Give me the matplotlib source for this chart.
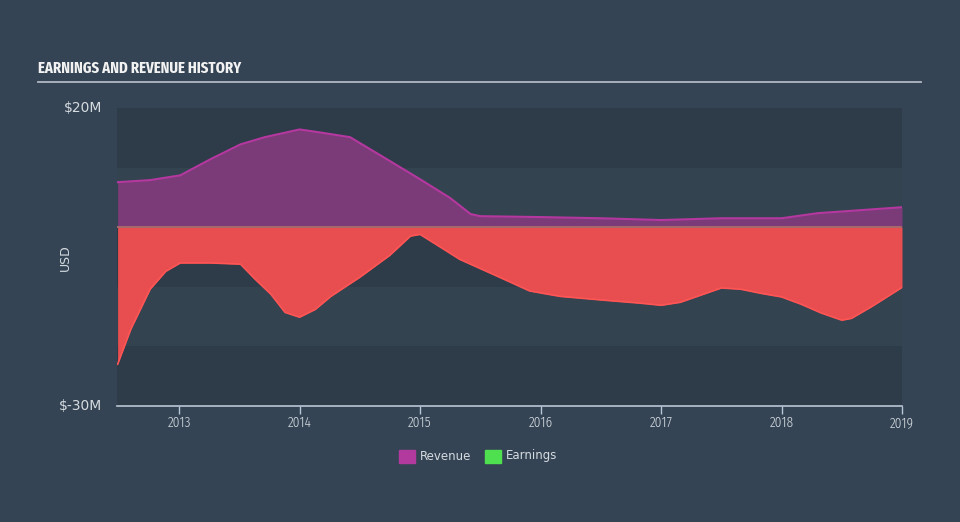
import matplotlib
matplotlib.use("Agg")
import matplotlib.pyplot as plt
from matplotlib.patches import Rectangle
from matplotlib.lines import Line2D
from matplotlib import font_manager as fm
import os

# ---- data (USD millions) ----
rev_years = [2012.49, 2012.76, 2013.01, 2013.26, 2013.51, 2013.71, 2014.0, 2014.17,
             2014.42, 2014.75, 2015.0, 2015.25, 2015.42, 2015.5, 2016.0, 2016.5,
             2017.0, 2017.5, 2018.0, 2018.3, 2018.65, 2019.0]
revenue = [7.55, 7.9, 8.7, 11.4, 13.9, 15.1, 16.4, 15.9, 15.1, 11.1, 8.05, 4.9,
           2.2, 1.85, 1.7, 1.5, 1.2, 1.5, 1.5, 2.35, 2.85, 3.35]

earn_years = [2012.49, 2012.6, 2012.76, 2012.89, 2013.01, 2013.26, 2013.51, 2013.63,
              2013.76, 2013.88, 2014.0, 2014.13, 2014.26, 2014.5, 2014.75, 2014.92,
              2015.0, 2015.13, 2015.33, 2015.66, 2015.91, 2016.16, 2016.5, 2016.83,
              2017.0, 2017.16, 2017.33, 2017.5, 2017.66, 2017.83, 2018.0, 2018.16,
              2018.33, 2018.5, 2018.58, 2018.75, 2019.0]
earnings = [-23.0, -17.1, -10.4, -7.4, -6.0, -6.0, -6.2, -8.7, -11.2, -14.3, -15.1,
            -13.8, -11.6, -8.4, -4.7, -1.5, -1.2, -2.85, -5.4, -8.4, -10.7, -11.6,
            -12.2, -12.75, -13.1, -12.6, -11.4, -10.2, -10.4, -11.1, -11.7, -12.9,
            -14.4, -15.6, -15.3, -13.3, -10.1]

xticks = [2013, 2014, 2015, 2016, 2017, 2018, 2019]
ytick_vals = [20, -30]
ytick_labels = ["$20M", "$-30M"]


def stretch_rank(entry):
    b = os.path.basename(entry.fname).lower().replace("-", "").replace("_", "")
    n = entry.name.lower()
    if "mono" in b or "serif" in b or "italic" in b or "oblique" in b:
        return None
    if "ultracondensed" in b:
        return 3
    if "extracondensed" in b:
        return 1
    if "semicondensed" in b:
        return 4
    if "condensed" in b or "narrow" in b or "condensed" in n or "narrow" in n:
        return 2
    return None


def weight_num(entry):
    w = entry.weight
    if isinstance(w, int):
        return w
    return {"normal": 400, "regular": 400, "bold": 700, "light": 300}.get(str(w), 400)


def pick(target_weight):
    best = None
    for e in fm.fontManager.ttflist:
        r = stretch_rank(e)
        if r is None:
            continue
        score = (r, abs(weight_num(e) - target_weight))
        if best is None or score < best[0]:
            best = (score, e.fname)
    return fm.FontProperties(fname=best[1]) if best else fm.FontProperties(family="DejaVu Sans")


title_fp = pick(700)
tick_fp = pick(350)

BG = "#344454"
DARK = "#2e3b49"
LIGHT = "#344350"
TXT = "#d6dbe0"

fig = plt.figure(figsize=(9.6, 5.22), dpi=100)
fig.patch.set_facecolor(BG)
ax = fig.add_axes([117/960, (522-406)/522, 785/960, 298/522])
ax.set_facecolor(DARK)
ax.set_xlim(2012.485, 2019.0)
ax.set_ylim(-30, 20)

for lo, hi, c in [(10, 20, DARK), (0, 10, LIGHT), (-10, 0, DARK), (-20, -10, LIGHT), (-30, -20, DARK)]:
    ax.axhspan(lo, hi, color=c, lw=0, zorder=0)

ax.fill_between(rev_years, revenue, 0, color="#7b3a78", lw=0, zorder=2)
ax.plot(rev_years, revenue, color="#b4389f", lw=1.5, zorder=3)
ax.fill_between(earn_years, earnings, 0, color="#e84e50", lw=0, zorder=2)
ax.plot(earn_years, earnings, color="#ff5555", lw=1.2, zorder=3)
ax.axhline(0, color="#a86a6a", lw=1.4, zorder=4)

for s in ["top", "right", "left"]:
    ax.spines[s].set_visible(False)
ax.spines["bottom"].set_color("#b9c6d4")
ax.spines["bottom"].set_linewidth(1.2)
ax.set_xticks(xticks)
ax.set_xticklabels([str(t) for t in xticks])
for lab in ax.get_xticklabels():
    fp = tick_fp.copy()
    fp.set_size(10.5)
    lab.set_fontproperties(fp)
    lab.set_color(TXT)
ax.tick_params(axis="x", length=6, width=1, color="#b9c6d4", pad=1)
ax.set_yticks([])

for v, lab in zip(ytick_vals, ytick_labels):
    ax.text(-0.019, v, lab, transform=ax.get_yaxis_transform(), ha="right",
            va="center", fontsize=10, color=TXT)
fig.text(65/960, 1 - 258/522, "USD", rotation=90, ha="center", va="center",
         fontsize=9, color=TXT)

tfp = title_fp.copy()
tfp.set_size(11.5)
fig.text(38/960, 1 - 68/522, "EARNINGS AND REVENUE HISTORY", ha="left", va="center",
         fontproperties=tfp, color="#f2f2f2")
fig.add_artist(Line2D([38/960, 921/960], [1 - 82/522, 1 - 82/522],
                      color="#b0b8c2", lw=1.3, transform=fig.transFigure))

ly = 1 - 456/522
fig.add_artist(Rectangle((399/960, ly - 7/522), 16/960, 13/522, color="#b23a9e",
                         transform=fig.transFigure))
fig.text(420/960, ly, "Revenue", ha="left", va="center", fontsize=8.5, color=TXT)
fig.add_artist(Rectangle((485/960, ly - 7/522), 16/960, 13/522, color="#4ee04e",
                         transform=fig.transFigure))
fig.text(506/960, ly, "Earnings", ha="left", va="center", fontsize=8.5, color=TXT)

fig.savefig("out.png", dpi=100, facecolor=BG)
